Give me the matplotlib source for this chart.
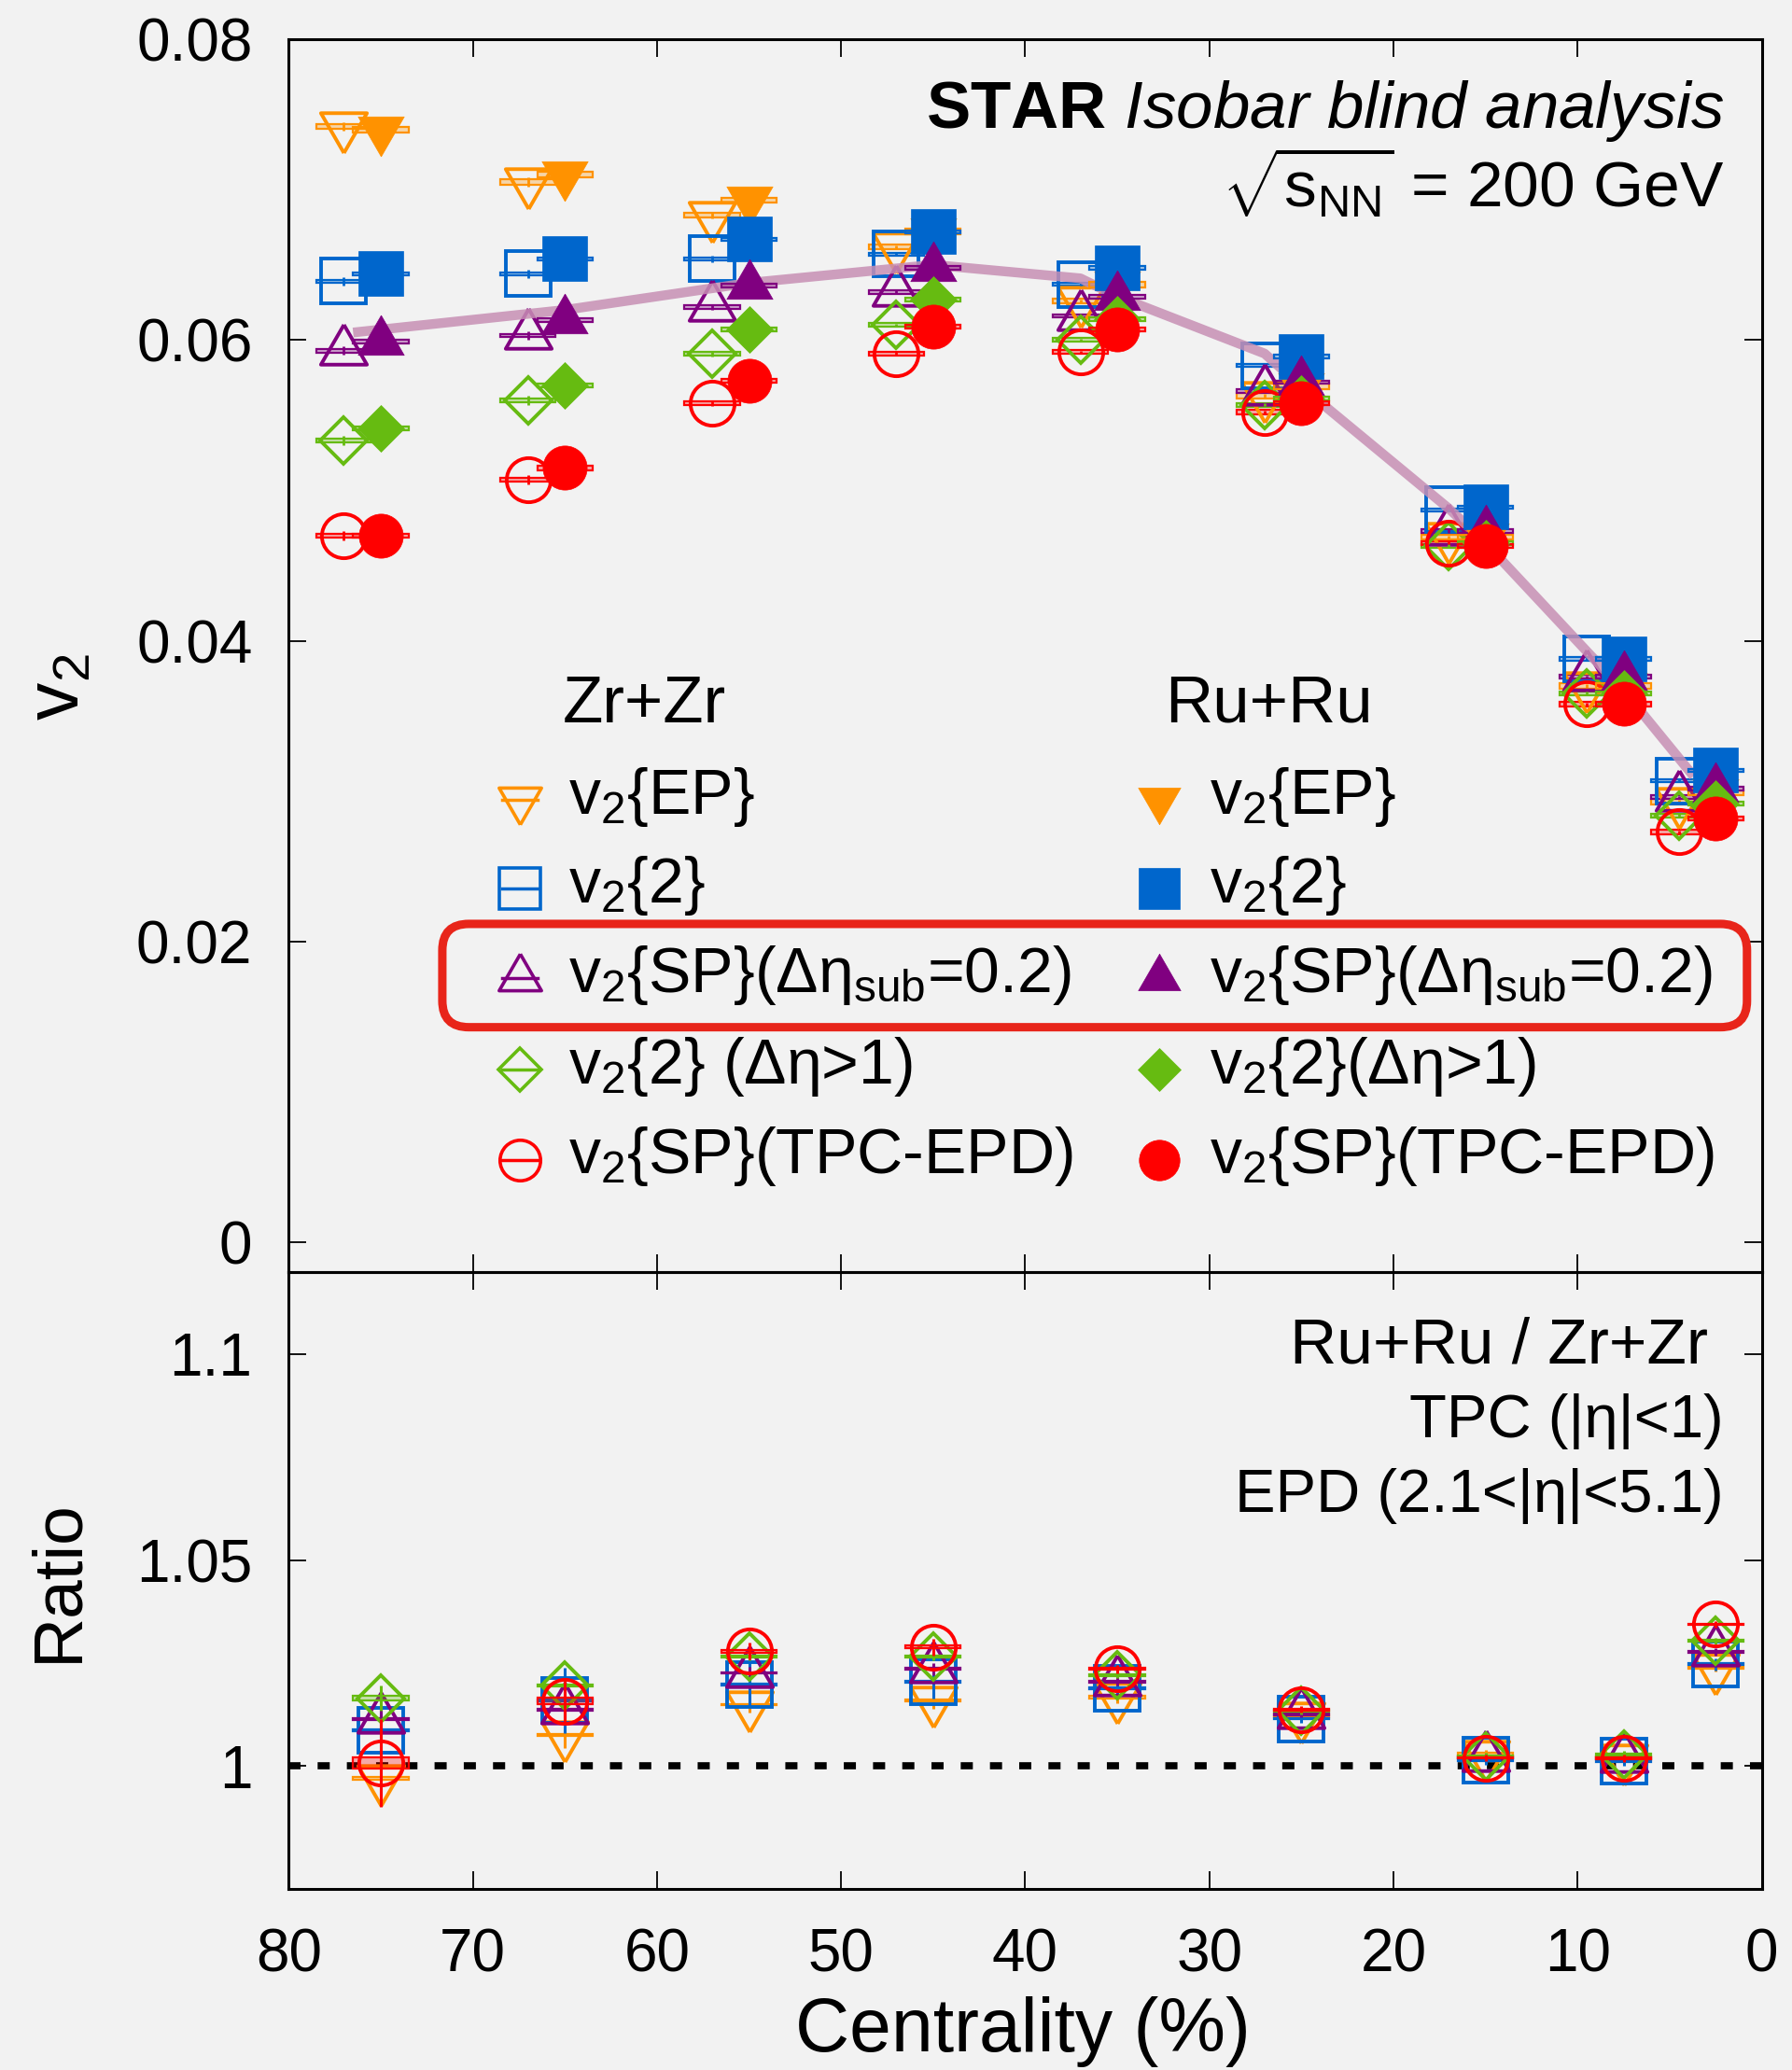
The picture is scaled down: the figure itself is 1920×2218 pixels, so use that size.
import numpy as np
import matplotlib
matplotlib.use('Agg')
import matplotlib.pyplot as plt
from matplotlib.patches import Rectangle, FancyBboxPatch
from matplotlib.colors import to_rgba

plt.rcParams['font.family'] = ['Liberation Sans', 'DejaVu Sans']
plt.rcParams['mathtext.fontset'] = 'custom'
plt.rcParams['mathtext.rm'] = 'Liberation Sans'
plt.rcParams['mathtext.it'] = 'Liberation Sans:italic'
plt.rcParams['mathtext.bf'] = 'Liberation Sans:bold'

# ---- data ----
cent = np.array([75, 65, 55, 45, 35, 25, 15, 7.5, 2.5])  # bin centres (%)
zr_shift = 2.0  # Zr+Zr points are drawn shifted by +2%

zr_ep     = [0.0742, 0.0705, 0.0683, 0.0662, 0.0626, 0.0563, 0.0469, 0.0370, 0.0293]
zr_2      = [0.0639, 0.0644, 0.0654, 0.0657, 0.0637, 0.0583, 0.0487, 0.0388, 0.0307]
zr_sp     = [0.0593, 0.0603, 0.0622, 0.0632, 0.0616, 0.0566, 0.0473, 0.0376, 0.0296]
zr_2eta   = [0.0533, 0.0560, 0.0591, 0.0610, 0.0600, 0.0557, 0.0463, 0.0365, 0.0284]
zr_tpcepd = [0.0470, 0.0507, 0.0558, 0.0591, 0.0592, 0.0552, 0.0465, 0.0358, 0.0273]

ru_ep     = [0.0740, 0.0710, 0.0693, 0.0672, 0.0637, 0.0569, 0.0469, 0.0370, 0.0299]
ru_2      = [0.0644, 0.0654, 0.0667, 0.0672, 0.0648, 0.0589, 0.0489, 0.0388, 0.0314]
ru_sp     = [0.0599, 0.0613, 0.0636, 0.0648, 0.0629, 0.0572, 0.0473, 0.0376, 0.0302]
ru_2eta   = [0.0541, 0.0570, 0.0607, 0.0627, 0.0614, 0.0561, 0.0465, 0.0365, 0.0292]
ru_tpcepd = [0.0470, 0.0515, 0.0573, 0.0609, 0.0607, 0.0558, 0.0463, 0.0358, 0.0282]

stat_top = [0.0003, 0.0003, 0.0002, 0.0001, 0.0001, 0.0001, 0.0001, 0.0001, 0.0001]
sys_top = [0.00018, 0.00010, 0.00012, 0.00012, 0.00014]  # per method

ratio_ep     = [0.9970, 1.0075, 1.0149, 1.0159, 1.0168, 1.0122, 1.0029, 1.0020, 1.0239]
ratio_2      = [1.0087, 1.0159, 1.0198, 1.0205, 1.0188, 1.0115, 1.0015, 1.0013, 1.0247]
ratio_sp     = [1.0114, 1.0137, 1.0226, 1.0236, 1.0205, 1.0126, 1.0022, 1.0020, 1.0277]
ratio_2eta   = [1.0165, 1.0196, 1.0266, 1.0266, 1.0221, 1.0134, 1.0024, 1.0028, 1.0304]
ratio_tpcepd = [1.0008, 1.0158, 1.0279, 1.0289, 1.0236, 1.0137, 1.0020, 1.0019, 1.0344]

ratio_stat_ep     = [0.0040, 0.0030, 0.0020, 0.0020, 0.0015, 0.0010, 0.0010, 0.0010, 0.0010]
ratio_stat_2      = [0.0050, 0.0080, 0.0055, 0.0040, 0.0012, 0.0010, 0.0012, 0.0012, 0.0015]
ratio_stat_sp     = [0.0030, 0.0020, 0.0015, 0.0015, 0.0010, 0.0008, 0.0008, 0.0008, 0.0010]
ratio_stat_2eta   = [0.0030, 0.0015, 0.0010, 0.0010, 0.0008, 0.0008, 0.0008, 0.0008, 0.0008]
ratio_stat_tpcepd = [0.0107, 0.0050, 0.0020, 0.0020, 0.0010, 0.0008, 0.0008, 0.0008, 0.0008]

ratio_sys_ep     = [0.0003, 0.0002, 0.0002, 0.0002, 0.0003, 0.0003, 0.0003, 0.0003, 0.0003]
ratio_sys_2      = [0.0002, 0.0002, 0.0002, 0.0002, 0.0002, 0.0002, 0.0002, 0.0002, 0.0002]
ratio_sys_sp     = [0.0002, 0.0002, 0.0002, 0.0002, 0.0002, 0.0002, 0.0002, 0.0002, 0.0002]
ratio_sys_2eta   = [0.0006, 0.0002, 0.0002, 0.0002, 0.0002, 0.0002, 0.0002, 0.0002, 0.0002]
ratio_sys_tpcepd = [0.0013, 0.0008, 0.0003, 0.0003, 0.0002, 0.0002, 0.0002, 0.0002, 0.0002]

# model band through the points
model_x = [76.5, 65, 55, 45, 37, 35, 27, 25, 17, 15, 9.5, 7.5, 3.7]
model_y = [0.0605, 0.0620, 0.0638, 0.0650, 0.0641, 0.0629, 0.0591, 0.0569,
           0.0488, 0.0465, 0.0393, 0.0367, 0.0310]

labels_zr = [r'v$_2${EP}', r'v$_2${2}', r'v$_2${SP}(Δη$_{\rm sub}$=0.2)',
             r'v$_2${2} (Δη>1)', r'v$_2${SP}(TPC-EPD)']
labels_ru = [r'v$_2${EP}', r'v$_2${2}', r'v$_2${SP}(Δη$_{\rm sub}$=0.2)',
             r'v$_2${2}(Δη>1)', r'v$_2${SP}(TPC-EPD)']

# ---- styles ----
tri_up = [(0, 1), (-0.866, -0.5), (0.866, -0.5), (0, 1)]
tri_dn = [(0, -1), (-0.866, 0.5), (0.866, 0.5), (0, -1)]
colors = ['#ff9200', '#0066cc', '#800080', '#66bb11', '#ff0000']
markers = [tri_dn, 's', tri_up, 'D', 'o']
msizes = [41, 34, 41, 25.5, 34]
box_half = 1.5

zr_all = [zr_ep, zr_2, zr_sp, zr_2eta, zr_tpcepd]
ru_all = [ru_ep, ru_2, ru_sp, ru_2eta, ru_tpcepd]
ratio_all = [ratio_ep, ratio_2, ratio_sp, ratio_2eta, ratio_tpcepd]
ratio_stat = [ratio_stat_ep, ratio_stat_2, ratio_stat_sp, ratio_stat_2eta, ratio_stat_tpcepd]
ratio_sys = [ratio_sys_ep, ratio_sys_2, ratio_sys_sp, ratio_sys_2eta, ratio_sys_tpcepd]

bg = '#f2f2f2'
fig = plt.figure(figsize=(19.2, 22.18), dpi=100, facecolor=bg)
ax1 = fig.add_axes([0.1611, 0.38548, 0.8220, 0.59558])
ax2 = fig.add_axes([0.1611, 0.08769, 0.8220, 0.29779])


def boxes(ax, x, y, half, c, z):
    for xi, yi, hi in zip(x, y, half):
        ax.add_patch(Rectangle((xi - box_half, yi - hi), 2 * box_half, 2 * hi,
                               facecolor=to_rgba(c, 0.3), edgecolor=c, lw=1.6, zorder=z))


# top panel
for i in range(5):
    c = colors[i]
    xz = cent + zr_shift
    boxes(ax1, xz, zr_all[i], [sys_top[i]] * len(cent), c, 2)
    ax1.errorbar(xz, zr_all[i], yerr=stat_top, fmt='none', ecolor=c, elinewidth=2, zorder=3)
    ax1.plot(xz, zr_all[i], ls='none', marker=markers[i], ms=msizes[i], mfc='none',
             mec=c, mew=2.8, zorder=3)

ax1.plot(model_x, model_y, color='#c78fb4', lw=7.5, alpha=0.85, solid_capstyle='butt', zorder=4)

for i in range(5):
    c = colors[i]
    boxes(ax1, cent, ru_all[i], [sys_top[i]] * len(cent), c, 5)
    ax1.errorbar(cent, ru_all[i], yerr=stat_top, fmt='none', ecolor=c, elinewidth=2, zorder=6)
    ax1.plot(cent, ru_all[i], ls='none', marker=markers[i], ms=msizes[i], mfc=c,
             mec=c, mew=0.5, zorder=6)

# ratio panel
ax2.axhline(1.0, color='k', lw=5.5, ls=(0, (1.7, 2.4)), zorder=1)
for i in range(5):
    c = colors[i]
    boxes(ax2, cent, ratio_all[i], ratio_sys[i], c, 2 + i)
    ax2.errorbar(cent, ratio_all[i], yerr=ratio_stat[i], fmt='none', ecolor=c,
                 elinewidth=2.2, zorder=2 + i)
    ax2.plot(cent, ratio_all[i], ls='none', marker=markers[i], ms=msizes[i], mfc='none',
             mec=c, mew=2.8, zorder=2 + i)

# axes cosmetics
for ax in (ax1, ax2):
    ax.set_facecolor('none')
    ax.set_xlim(80, 0)
    ax.set_xticks([80, 70, 60, 50, 40, 30, 20, 10, 0])
    ax.tick_params(direction='in', length=14, width=1.3, top=True, right=True,
                   labelsize=46, pad=28)
    ax.tick_params(axis='x', pad=30)
    for s in ax.spines.values():
        s.set_linewidth(2.2)

ax1.set_ylim(-0.00197, 0.0800)
ax1.set_yticks([0, 0.02, 0.04, 0.06, 0.08])
ax1.set_yticklabels(['0', '0.02', '0.04', '0.06', '0.08'])
ax1.tick_params(axis='x', labelbottom=False)

ax2.set_ylim(0.9703, 1.1199)
ax2.set_yticks([1.0, 1.05, 1.1])
ax2.set_yticklabels(['1', '1.05', '1.1'])
ax2.set_xticklabels(['80', '70', '60', '50', '40', '30', '20', '10', '0'])

fig.text(0.033, 0.668, r'v$_2$', rotation=90, fontsize=58, ha='center', va='center')
fig.text(0.033, 0.2363, 'Ratio', rotation=90, fontsize=54, ha='center', va='center')
fig.text(0.571, 0.009, 'Centrality (%)', fontsize=58, ha='center', va='baseline')

# header texts
ax1.text(0.9744, 0.9281, r'$\mathbf{STAR}$ $\it{Isobar\ blind\ analysis}$', transform=ax1.transAxes,
         fontsize=51, ha='right', va='baseline')
ax1.text(0.9744, 0.8637, r'$\sqrt{{\rm s}_{\rm NN}}$ = 200 GeV', transform=ax1.transAxes,
         fontsize=50, ha='right', va='baseline')

ax2.text(0.9637, 0.8531, 'Ru+Ru / Zr+Zr', transform=ax2.transAxes, fontsize=50,
         ha='right', va='baseline')
ax2.text(0.9742, 0.7320, 'TPC (|η|<1)', transform=ax2.transAxes, fontsize=47,
         ha='right', va='baseline')
ax2.text(0.9742, 0.6109, 'EPD (2.1<|η|<5.1)', transform=ax2.transAxes, fontsize=47,
         ha='right', va='baseline')

# legend, drawn by hand
ax1.text(0.1861, 0.4459, 'Zr+Zr', transform=ax1.transAxes, fontsize=51, va='baseline')
ax1.text(0.5948, 0.4459, 'Ru+Ru', transform=ax1.transAxes, fontsize=51, va='baseline')
row_y = [0.3717, 0.2999, 0.2271, 0.1529, 0.0802]
for i in range(5):
    c = colors[i]
    my = row_y[i] + 0.011
    ax1.plot([0.1569 - 0.012, 0.1569 + 0.012], [my, my], color=c, lw=2.5,
             transform=ax1.transAxes, zorder=7)
    ax1.plot([0.1569], [my], marker=markers[i], ms=msizes[i] * 0.92, mfc='none', mec=c,
             mew=2.6, transform=ax1.transAxes, zorder=7)
    ax1.plot([0.5909], [my], marker=markers[i], ms=msizes[i] * 0.92, mfc=c, mec=c, mew=0.5,
             transform=ax1.transAxes, zorder=7)
    ax1.text(0.1899, row_y[i], labels_zr[i], transform=ax1.transAxes, fontsize=49,
             va='baseline')
    ax1.text(0.6252, row_y[i], labels_ru[i], transform=ax1.transAxes, fontsize=49,
             va='baseline')

hl = FancyBboxPatch((0.1043, 0.1986), 0.9900 - 0.1043, 0.2824 - 0.1986,
                    boxstyle='round,pad=0,rounding_size=0.018', mutation_aspect=1.19,
                    transform=ax1.transAxes, facecolor='none', edgecolor='#e8251a',
                    lw=6.5, clip_on=False, zorder=8)
ax1.add_patch(hl)

fig.savefig('out.png', dpi=100, facecolor=bg)
